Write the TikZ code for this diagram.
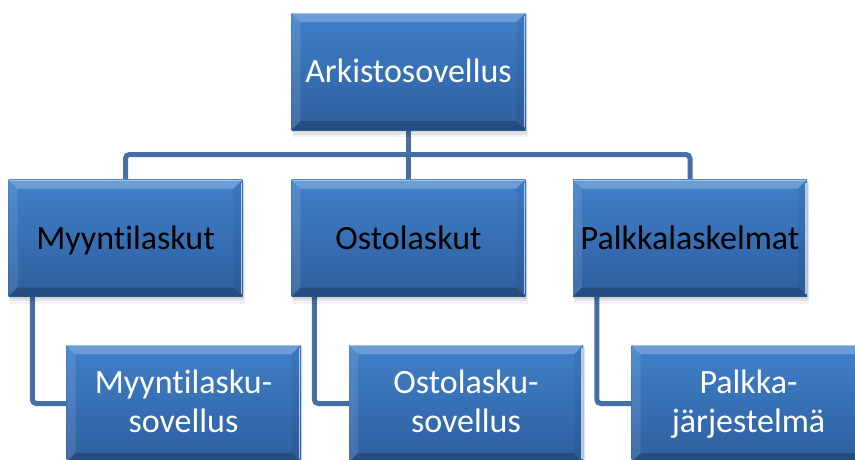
\documentclass[tikz,border=0pt]{standalone}
\usepackage{fontspec}
\setmainfont{Carlito}[Ligatures=NoCommon]
\definecolor{boxtop}{RGB}{64,128,202}
\definecolor{boxbot}{RGB}{46,95,158}
\definecolor{conncol}{RGB}{68,112,166}
\definecolor{edgelight}{RGB}{200,230,252}
\tikzset{
  conn/.style={draw=conncol, line width=5pt, rounded corners=4pt},
  anchorbox/.style={inner sep=0pt, minimum width=234pt, minimum height=117pt},
  wtext/.style={text=white, font=\fontsize{34}{40}\selectfont, anchor=base, inner sep=0pt},
  ktext/.style={text=black, font=\fontsize{34}{40}\selectfont, anchor=base, inner sep=0pt}
}
\newcommand\bevelbox[2]{%
  \pgfmathsetmacro\bxA{#1-117}\pgfmathsetmacro\bxB{#1+117}%
  \pgfmathsetmacro\byA{#2-58.5}\pgfmathsetmacro\byB{#2+58.5}%
  \fill[black,opacity=.05] (\bxA+1,\byA+3) rectangle (\bxB+2,\byB+7);
  \fill[black,opacity=.06] (\bxA+1,\byA+2) rectangle (\bxB+1.5,\byB+4.5);
  \fill[black,opacity=.08] (\bxA,\byA+1) rectangle (\bxB+1,\byB+2);
  \shade[top color=boxtop,bottom color=boxbot] (\bxA,\byA) rectangle (\bxB,\byB);
  \fill[white,opacity=.24] (\bxA,\byA) -- (\bxB,\byA) -- (\bxB-9,\byA+9) -- (\bxA+9,\byA+9) -- cycle;
  \fill[white,opacity=.10] (\bxA,\byA) -- (\bxA+9,\byA+9) -- (\bxA+9,\byB-9) -- (\bxA,\byB) -- cycle;
  \fill[black,opacity=.20] (\bxA,\byB) -- (\bxA+9,\byB-9) -- (\bxB-9,\byB-9) -- (\bxB,\byB) -- cycle;
  \fill[black,opacity=.06] (\bxB,\byA) -- (\bxB-9,\byA+9) -- (\bxB-9,\byB-9) -- (\bxB,\byB) -- cycle;
  \draw[edgelight,line width=1.5pt,opacity=.8] (\bxB-1,\byA+3) -- (\bxB-1,\byB-3);
  \draw[white,line width=1pt,opacity=.35] (\bxA+1,\byA+0.5) -- (\bxB-1,\byA+0.5);
}
\begin{document}
\begin{tikzpicture}[x=1pt,y=-1pt]
\useasboundingbox (0,0) rectangle (855,459);
\clip (0,0) rectangle (855,459);
% anchor nodes
\node[anchorbox] (top) at (408.5,71.5) {};
\node[anchorbox] (m1) at (125.5,238) {};
\node[anchorbox] (m2) at (408.5,238) {};
\node[anchorbox] (m3) at (690,238) {};
\node[anchorbox] (b1) at (183.5,403.5) {};
\node[anchorbox] (b2) at (466,403.5) {};
\node[anchorbox] (b3) at (748.5,403.5) {};
\coordinate (bus) at (408.5,154.5);
% connectors
\draw[conn] (top.south) -- (m2.north);
\draw[conn] (m1.north) |- (bus) -| (m3.north);
\draw[conn] ([xshift=24pt]m1.south west) |- (b1.west);
\draw[conn] ([xshift=23pt]m2.south west) |- (b2.west);
\draw[conn] ([xshift=24pt]m3.south west) |- (b3.west);
% boxes
\bevelbox{408.5}{71.5}
\bevelbox{125.5}{238}
\bevelbox{408.5}{238}
\bevelbox{690}{238}
\bevelbox{183.5}{403.5}
\bevelbox{466}{403.5}
\bevelbox{748.5}{403.5}
% texts
\node[wtext] (t0) at (408.5,82.5) {Arkistosovellus};
\node[ktext] (t1) at (125.5,249) {Myyntilaskut};
\node[ktext] (t2) at (408.5,249) {Ostolaskut};
\node[ktext] (t3) at (690,249) {Palkkalaskelmat};
\node[wtext] (t4a) at (183.5,393) {Myyntilasku-};
\node[wtext] (t4b) at (183.5,432) {sovellus};
\node[wtext] (t5a) at (466,393) {Ostolasku-};
\node[wtext] (t5b) at (466,432) {sovellus};
\node[wtext] (t6a) at (748.5,393) {Palkka-};
\node[wtext] (t6b) at (748.5,432) {järjestelmä};
\end{tikzpicture}
\end{document}
